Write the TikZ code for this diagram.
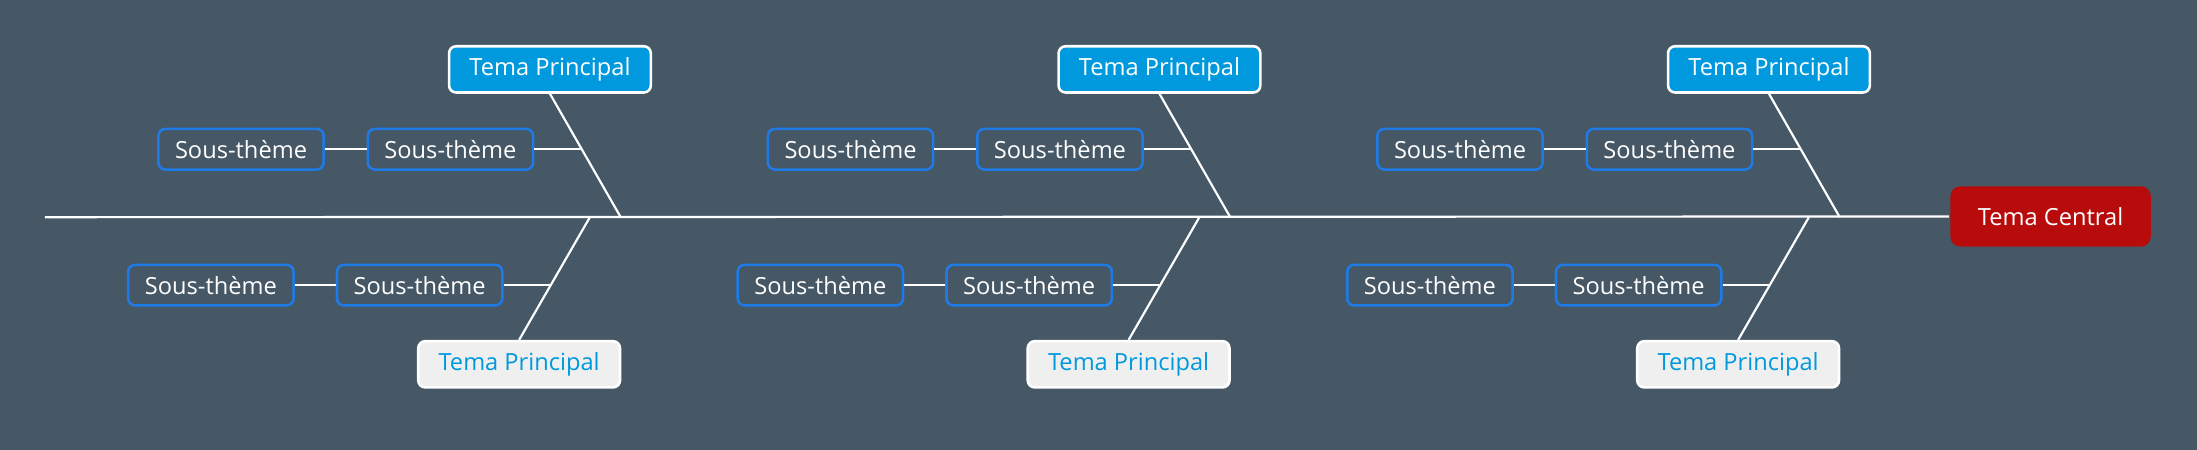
\documentclass[tikz,border=0pt]{standalone}
\usepackage{fontspec}
\setmainfont{Open Sans}
\definecolor{bg}{HTML}{465766}
\definecolor{tpblue}{HTML}{0099DD}
\definecolor{subblue}{HTML}{1E7BE6}
\definecolor{central}{HTML}{B80C0C}
\definecolor{light}{HTML}{EFEFEF}
\begin{document}
\begin{tikzpicture}[x=0.05cm,y=-0.05cm,
  box/.style={rounded corners=0.25cm,line width=2.6pt,inner sep=0pt,font=\fontsize{24}{28}\selectfont},
  tptop/.style={box,draw=white,fill=tpblue,text=white,minimum width=7.2cm,minimum height=1.65cm},
  tpbot/.style={box,draw=white,fill=light,text=tpblue,minimum width=7.2cm,minimum height=1.65cm},
  sub/.style={box,draw=subblue,fill=bg,text=white,minimum width=5.9cm,minimum height=1.45cm},
  ln/.style={white,line width=2.2pt}]
\fill[bg] (0,0) rectangle (1568,321);
\useasboundingbox (0,0) rectangle (1568,321);
\node[box,draw=none,fill=central,text=white,minimum width=7.15cm,minimum height=2.15cm,rounded corners=0.35cm] (tc) at (1463.5,154.5) {Tema Central};
\coordinate (s0) at (32,155);
\draw[ln] (s0) -- (tc.west);
\foreach \o/\n in {0/a,435/b,870/c}{
  \node[tptop] (t\n) at (392.5+\o,49.5) {Tema Principal};
  \node[tpbot] (b\n) at (370.5+\o,260) {Tema Principal};
  \node[sub] (u1\n) at (172+\o,106.5) {Sous-thème};
  \node[sub] (u2\n) at (321.5+\o,106.5) {Sous-thème};
  \node[sub] (d1\n) at (150.5+\o,203.5) {Sous-thème};
  \node[sub] (d2\n) at (299.5+\o,203.5) {Sous-thème};
  \coordinate (jt\n) at (443+\o,155);
  \coordinate (jb\n) at (421+\o,155);
  \coordinate (kt\n) at (414.5+\o,106.5);
  \coordinate (kb\n) at (392.5+\o,203.5);
  \draw[ln] (t\n.south) -- (jt\n);
  \draw[ln] (b\n.north) -- (jb\n);
  \draw[ln] (u2\n.east) -- (kt\n);
  \draw[ln] (d2\n.east) -- (kb\n);
  \draw[ln] (u1\n.east) -- (u2\n.west);
  \draw[ln] (d1\n.east) -- (d2\n.west);
}
\end{tikzpicture}
\end{document}
